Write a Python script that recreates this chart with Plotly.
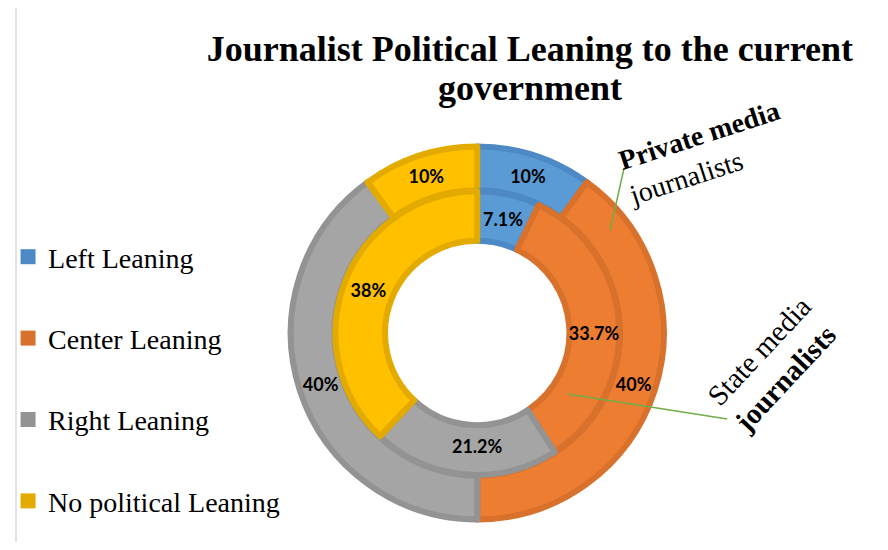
import plotly.graph_objects as go

# ---- data ----
categories = ["Left Leaning", "Center Leaning", "Right Leaning", "No political Leaning"]
private_media = [10, 40, 40, 10]      # outer ring (%)
state_media = [7.1, 33.7, 21.2, 38]   # inner ring (%)
title_line1 = "Journalist Political Leaning to the current"
title_line2 = "government"

# ---- styles ----
fill_colors = ["#5B9BD5", "#ED7D31", "#A5A5A5", "#FFC000"]
edge_colors = ["#4D89C4", "#D8712C", "#939393", "#E3AA00"]

OFF = 8                      # page body margin
W, H = 888 - 2 * OFF, 550 - 2 * OFF


def px(x):   # reference x pixel -> paper fraction
    return (x - OFF) / W


def py(y):   # reference y pixel -> paper fraction
    return 1 - (y - OFF) / H


CX, CY = 474, 333            # pie centre (reference pixels)


def domain(R):
    return dict(x=[px(CX - R), px(CX + R)], y=[py(CY + R), py(CY - R)])


LABEL_FONT = dict(family="Lato", size=18, color="#000000", weight="bold")

fig = go.Figure()

fig.add_trace(go.Pie(
    labels=categories, values=private_media, sort=False, direction="clockwise",
    rotation=0, hole=0.765, domain=domain(188),
    marker=dict(colors=fill_colors, line=dict(color=edge_colors, width=6)),
    texttemplate="%{value}%", textposition="inside", insidetextorientation="horizontal",
    textfont=LABEL_FONT,
    showlegend=False, hoverinfo="label+value", name="Private media journalists",
))

fig.add_trace(go.Pie(
    labels=categories, values=state_media, sort=False, direction="clockwise",
    rotation=0, hole=0.65, domain=domain(143),
    marker=dict(colors=fill_colors, line=dict(color=edge_colors, width=6)),
    texttemplate="%{value}%", textposition="inside", insidetextorientation="horizontal",
    textfont=LABEL_FONT,
    showlegend=False, hoverinfo="label+value", name="State media journalists",
))

# legend entries (one group each so they can be spaced out)
for i, cat in enumerate(categories):
    fig.add_trace(go.Scatter(
        x=[None], y=[None], mode="markers", name=cat, legendgroup=cat,
        marker=dict(symbol="square", size=15, color=edge_colors[i]),
        showlegend=True,
    ))

TITLE_FONT = dict(family="Liberation Serif", size=36, color="#000000", weight="bold")
SERIF = "Liberation Serif"

fig.update_layout(
    width=W, height=H,
    margin=dict(l=0, r=0, t=0, b=0),
    paper_bgcolor="#FFFFFF", plot_bgcolor="rgba(0,0,0,0)",
    xaxis=dict(visible=False), yaxis=dict(visible=False),
    uniformtext=dict(mode="show", minsize=18),
    title=dict(
        text=title_line1, x=px(527), xanchor="center", y=py(48), yanchor="middle",
        xref="paper", yref="container", font=TITLE_FONT,
    ),
    legend=dict(
        x=px(1), xanchor="left", y=py(232), yanchor="top",
        font=dict(family=SERIF, size=28, color="#000000"),
        tracegroupgap=42, itemwidth=30, bgcolor="rgba(0,0,0,0)",
    ),
    annotations=[
        dict(text=title_line2, x=px(527), y=py(88), xref="paper", yref="paper",
             xanchor="center", yanchor="middle", showarrow=False, font=TITLE_FONT),
        dict(text="<b>Private media</b><br>journalists", x=px(703), y=py(152),
             xref="paper", yref="paper", xanchor="center", yanchor="middle",
             showarrow=False, textangle=-18, align="left",
             font=dict(family=SERIF, size=28, color="#000000")),
        dict(text="State media<br><b>journalists</b>", x=px(772), y=py(364),
             xref="paper", yref="paper", xanchor="center", yanchor="middle",
             showarrow=False, textangle=-47, align="left",
             font=dict(family=SERIF, size=29, color="#000000")),
    ],
    shapes=[
        dict(type="line", xref="paper", yref="paper", x0=px(608), y0=py(230),
             x1=px(622), y1=py(168), line=dict(color="#70AD47", width=1.5)),
        dict(type="line", xref="paper", yref="paper", x0=px(565), y0=py(394),
             x1=px(726), y1=py(419), line=dict(color="#70AD47", width=1.5)),
        dict(type="line", xref="paper", yref="paper", x0=px(9), y0=py(6),
             x1=1, y1=py(6), line=dict(color="#D9D9D9", width=1.5)),
        dict(type="line", xref="paper", yref="paper", x0=px(9), y0=py(6),
             x1=px(9), y1=0, line=dict(color="#D9D9D9", width=1.5)),
    ],
)

fig.write_html("out.html")
